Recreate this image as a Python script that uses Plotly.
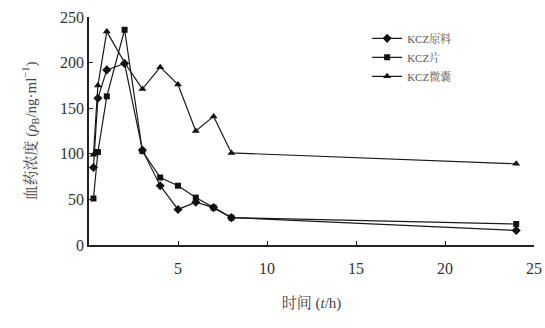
import plotly.graph_objects as go

time_h = [0.25, 0.5, 1, 2, 3, 4, 5, 6, 7, 8, 24]
raw = [85, 161, 192, 199, 104, 65, 39, 47, 41, 30, 16]
tablet = [51, 102, 163, 236, 103, 74, 65, 52, 41, 30, 23]
microcap = [99, 175, 234, 200, 171, 195, 176, 125, 141, 101, 89]
names = ["KCZ原料", "KCZ片", "KCZ微囊"]
x_ticks = [5, 10, 15, 20, 25]
y_ticks = [0, 50, 100, 150, 200, 250]

FONT = "Liberation Serif, Times New Roman, Noto Serif CJK SC, Noto Sans CJK SC, serif"

fig = go.Figure()
for vals, nm, sym, sz in [(raw, names[0], "diamond", 7),
                          (tablet, names[1], "square", 6),
                          (microcap, names[2], "triangle-up", 7)]:
    fig.add_trace(go.Scatter(x=time_h, y=vals, name=nm, mode="lines+markers",
                             line=dict(color="#1a1a1a", width=1.2),
                             marker=dict(symbol=sym, size=sz, color="#111111"),
                             cliponaxis=False))

fig.update_layout(
    width=545, height=328,
    margin=dict(l=89, r=11, t=17, b=83, autoexpand=False),
    paper_bgcolor="white", plot_bgcolor="white",
    font=dict(family=FONT, size=16, color="#333333"),
    showlegend=True,
    legend=dict(x=0.625, y=0.97, xanchor="left", yanchor="top",
                font=dict(size=11, color="#555555"), bgcolor="rgba(0,0,0,0)",
                tracegroupgap=2, itemwidth=30),
    xaxis=dict(range=[0, 25], tickvals=x_ticks, ticks="inside", ticklen=4,
               tickcolor="#222", showline=True, linecolor="#222", linewidth=1.5,
               showgrid=False, zeroline=False, ticklabelstandoff=8, automargin=False,
               title=dict(text="时间 (<i>t</i>/h)", standoff=22,
                          font=dict(size=15, color="#444"))),
    yaxis=dict(range=[0, 250], tickvals=y_ticks, ticks="inside", ticklen=4,
               tickcolor="#222", showline=True, linecolor="#222", linewidth=1.5,
               showgrid=False, zeroline=False, automargin=False,
               title=dict(text="血药浓度 (<i>ρ</i><sub>B</sub>/ng·ml<sup>−1</sup>)",
                          standoff=20, font=dict(size=15, color="#444"))),
)

fig.write_html("out.html", config={"displayModeBar": False},
               post_script="document.body.style.margin='0';")
